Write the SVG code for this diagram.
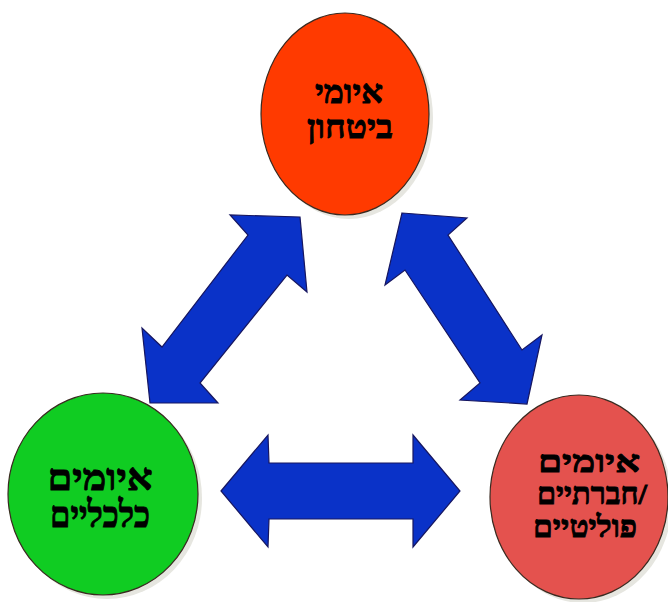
<svg xmlns="http://www.w3.org/2000/svg" width="668" height="602" viewBox="0 0 668 602">
<style>
.shadow{fill:#e6e6e0;}
.node{stroke:#3a2a20;stroke-width:1.2;}
.arrow{fill:#0a32c8;stroke:#161660;stroke-width:1.2;stroke-linejoin:miter;}
.lbl{font-family:"Liberation Serif","DejaVu Sans",serif;font-weight:bold;fill:#000;stroke:#000;stroke-width:0.9;text-anchor:middle;}
</style>
<rect width="668" height="602" fill="#fff"/>
<g id="connectors">
<polygon class="arrow" points="300,217 307,292 287,275 200,383 218,403 150,403 142,328 162,347 248,235 230,215"/>
<polygon class="arrow" points="402,213 467,218 448,235 522,350 542,335 527,404 460,400 480,383 405,270 385,285"/>
<polygon class="arrow" points="221,491 268,435 269,463 413,463 413,435 460,491 413,547 413,519 269,519 268,547"/>
</g>
<g id="node-security">
<ellipse class="shadow" cx="349" cy="118" rx="84" ry="101"/>
<ellipse class="node" cx="345" cy="114" rx="84" ry="101" fill="#ff3a00"/>
<text class="lbl" x="349" y="103" font-size="32" textLength="68" lengthAdjust="spacingAndGlyphs">איומי</text>
<text class="lbl" x="350" y="138" font-size="32" textLength="86" lengthAdjust="spacingAndGlyphs">ביטחון</text>
</g>
<g id="node-economic">
<ellipse class="shadow" cx="107" cy="498" rx="95" ry="101"/>
<ellipse class="node" cx="103" cy="494" rx="95" ry="101" fill="#10cc22"/>
<text class="lbl" x="100" y="490" font-size="37" textLength="105" lengthAdjust="spacingAndGlyphs">איומים</text>
<text class="lbl" x="100" y="527" font-size="37" textLength="100" lengthAdjust="spacingAndGlyphs">כלכליים</text>
</g>
<g id="node-social">
<ellipse class="shadow" cx="583" cy="501" rx="89" ry="102"/>
<ellipse class="node" cx="579" cy="497" rx="89" ry="102" fill="#e4524e"/>
<text class="lbl" x="589" y="472" font-size="30" textLength="102" lengthAdjust="spacingAndGlyphs">איומים</text>
<text class="lbl" x="592" y="504" font-size="30" textLength="110" lengthAdjust="spacingAndGlyphs">חברתיים/</text>
<text class="lbl" x="585" y="537" font-size="30" textLength="104" lengthAdjust="spacingAndGlyphs">פוליטיים</text>
</g>
</svg>
